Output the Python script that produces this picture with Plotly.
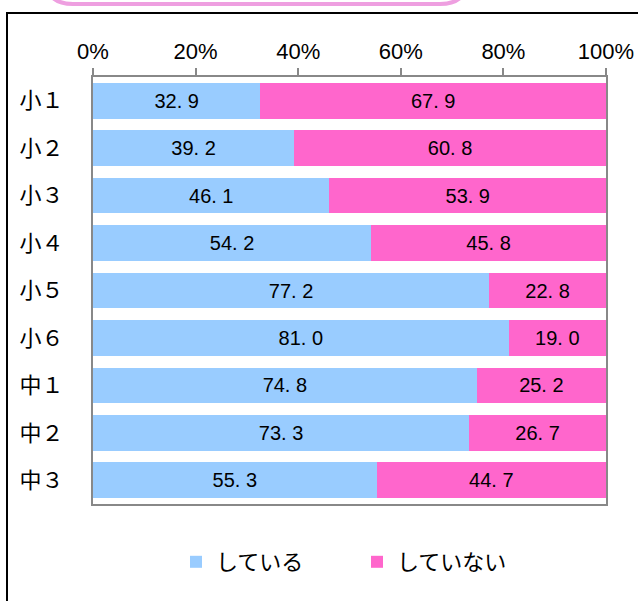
import plotly.graph_objects as go

categories = ["小１", "小２", "小３", "小４", "小５", "小６", "中１", "中２", "中３"]
doing = [32.9, 39.2, 46.1, 54.2, 77.2, 81.0, 74.8, 73.3, 55.3]
not_doing = [67.9, 60.8, 53.9, 45.8, 22.8, 19.0, 25.2, 26.7, 44.7]
series_names = ["している", "していない"]
tick_vals = [0, 20, 40, 60, 80, 100]

W, H = 638, 601
L, R, T, B = 93, 32, 77, 97
PW, PH = W - L - R, H - T - B


def px(x):
    return (x - L) / PW


def py(y):
    return (H - B - y) / PH


def fmt(v):
    return f"{v:.1f}".replace(".", ". ")


num_font = "Liberation Sans, Arial, sans-serif"
jp_font = "Noto Sans CJK JP, sans-serif"

fig = go.Figure()
fig.add_trace(go.Bar(
    y=categories, x=doing, name=series_names[0], orientation="h",
    marker=dict(color="#99CCFF", line=dict(width=0)),
    text=[fmt(v) for v in doing], textposition="inside", insidetextanchor="middle",
    textangle=0, constraintext="none",
    textfont=dict(family=num_font, size=20, color="black"),
))
fig.add_trace(go.Bar(
    y=categories, x=not_doing, name=series_names[1], orientation="h",
    marker=dict(color="#FF66CC", line=dict(width=0)),
    text=[fmt(v) for v in not_doing], textposition="inside", insidetextanchor="middle",
    textangle=0, constraintext="none",
    textfont=dict(family=num_font, size=20, color="black"),
))

# pink rounded title box (mostly cut off at top)
x0, x1, yb, r = px(45), px(468), py(4), 28
rx, ry = r / PW, r / PH
ytop = py(-40)
path = (f"M {x0} {ytop} L {x0} {yb + ry} Q {x0} {yb} {x0 + rx} {yb} "
        f"L {x1 - rx} {yb} Q {x1} {yb} {x1} {yb + ry} L {x1} {ytop}")

fig.update_layout(
    width=W, height=H,
    margin=dict(l=L, r=R, t=T, b=B, autoexpand=False),
    paper_bgcolor="white", plot_bgcolor="white",
    barmode="stack", barnorm="percent", bargap=0.25,
    showlegend=True,
    legend=dict(orientation="h", x=px(176), xanchor="left", y=py(562), yanchor="middle",
                font=dict(family=jp_font, size=22, color="black"),
                entrywidth=136, entrywidthmode="pixels", traceorder="normal"),
    xaxis=dict(side="top", range=[0, 100], tickvals=tick_vals,
               ticktext=[f"{v}%" for v in tick_vals],
               ticks="outside", ticklen=7, tickwidth=2, tickcolor="#888888",
               showline=True, linecolor="#888888", linewidth=2, mirror=True,
               showgrid=False, zeroline=False, automargin=False,
               tickfont=dict(family=num_font, size=22, color="black")),
    yaxis=dict(autorange="reversed", showline=True, linecolor="#888888", linewidth=2,
               mirror=True, showgrid=False, ticks="", ticklabelstandoff=23, automargin=False,
               tickfont=dict(family=jp_font, size=22, color="black")),
    shapes=[
        dict(type="rect", xref="paper", yref="paper",
             x0=px(7), x1=px(660), y0=py(13), y1=py(650),
             line=dict(color="black", width=2), fillcolor="rgba(0,0,0,0)", layer="above"),
        dict(type="path", xref="paper", yref="paper", path=path,
             line=dict(color="#EE9FE0", width=4), fillcolor="rgba(0,0,0,0)"),
    ],
)

fig.write_html("out.html")
